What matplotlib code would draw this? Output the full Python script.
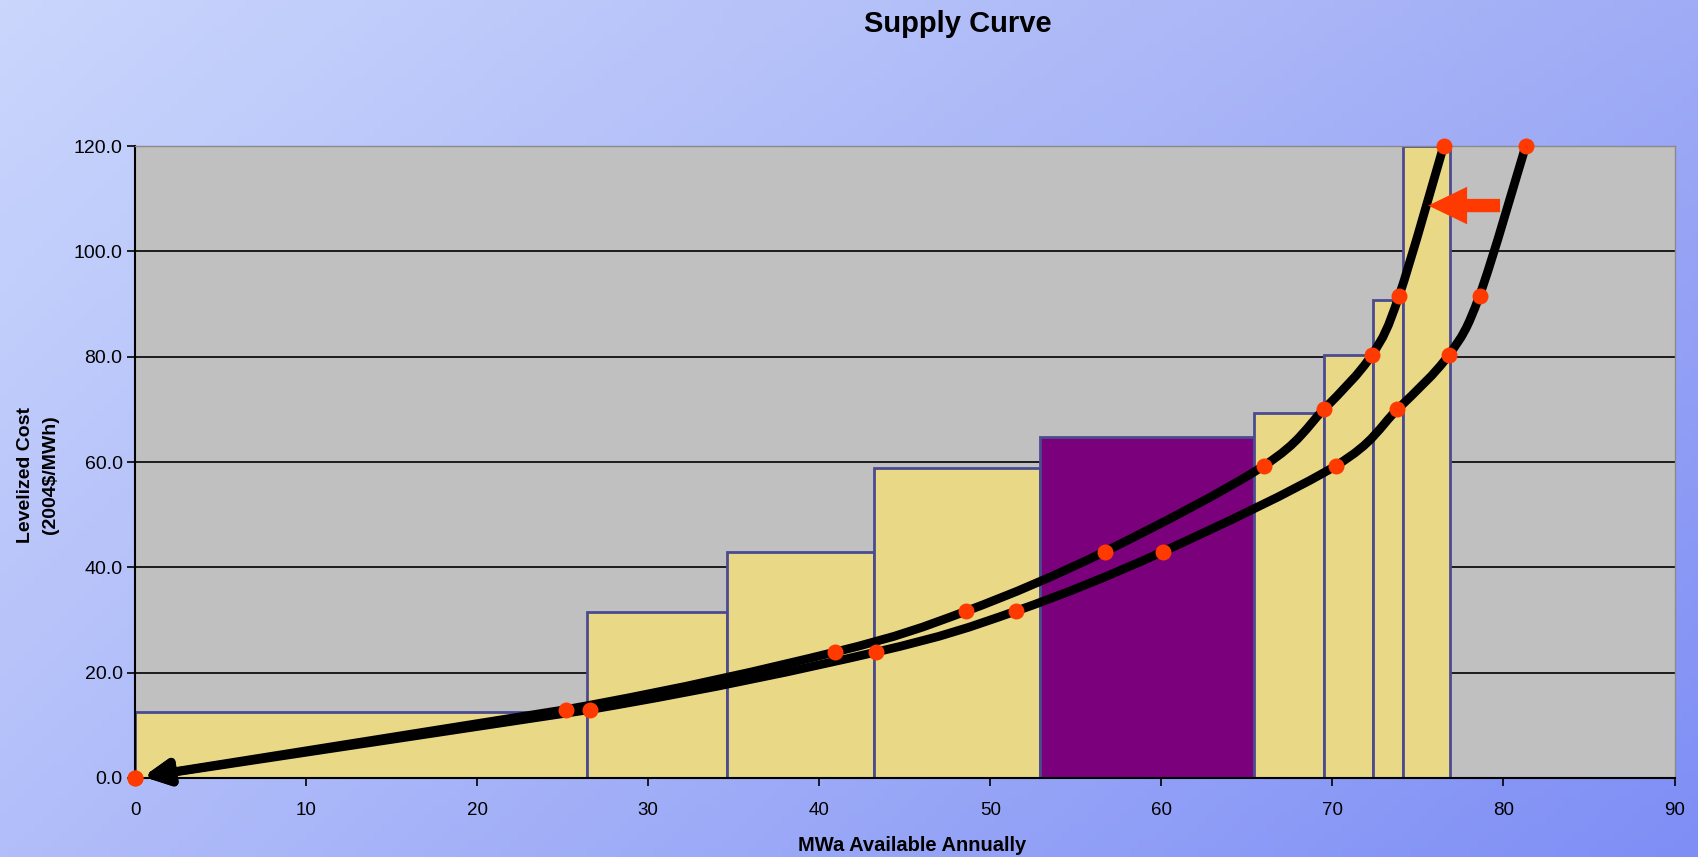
import numpy as np
import matplotlib
matplotlib.use("Agg")
import matplotlib.pyplot as plt
from matplotlib.path import Path
from matplotlib.patches import PathPatch

plt.rcParams["font.family"] = ["Liberation Sans", "DejaVu Sans"]

# supply blocks (MWa) and their levelized cost (2004$/MWh)
block_mw = [26.4, 8.2, 8.6, 9.7, 12.5, 4.1, 2.9, 1.7, 2.8]
block_cost = [12.6, 31.5, 43.0, 58.9, 64.8, 69.4, 80.3, 90.8, 120.0]
highlight_block = 4

# points along the two supply curves
curve_cost = [0.0, 13.0, 23.9, 31.7, 43.0, 59.3, 70.0, 80.3, 91.6, 120.0]
curve_a_mw = [0.0, 25.2, 40.9, 48.6, 56.7, 66.0, 69.5, 72.3, 73.9, 76.5]
curve_b_mw = [0.0, 26.6, 43.3, 51.5, 60.1, 70.2, 73.8, 76.8, 78.6, 81.3]

x_ticks = [0, 10, 20, 30, 40, 50, 60, 70, 80, 90]
y_ticks = [0, 20, 40, 60, 80, 100, 120]

shift_tip = (75.6, 108.7)
shift_tail = (79.8, 108.7)

YELLOW = "#e9d886"
PURPLE = "#7b007b"
EDGE = "#4b4b90"
RED = "#ff3a00"


def smooth_path(xs, ys):
    # Catmull-Rom style bezier through the points (like a smoothed scatter line)
    pts = np.column_stack([xs, ys])
    prev = np.vstack([[0.0, 0.0], pts[:-1]])
    nxt = np.vstack([pts[1:], pts[-1:]])
    verts = [pts[0]]
    codes = [Path.MOVETO]
    for i in range(len(pts) - 1):
        c1 = pts[i] + (nxt[i] - prev[i]) / 6.0
        c2 = pts[i + 1] - (nxt[i + 1] - prev[i + 1]) / 6.0
        verts += [c1, c2, pts[i + 1]]
        codes += [Path.CURVE4] * 3
    return Path(verts, codes)


fig = plt.figure(figsize=(16.99, 8.57), dpi=100)

# diagonal blue background
bg = fig.add_axes([0, 0, 1, 1], zorder=-10)
tl = np.array([202, 214, 252]) / 255
tr = np.array([160, 172, 245]) / 255
bl = np.array([178, 190, 249]) / 255
br = np.array([126, 142, 245]) / 255
u = np.linspace(0, 1, 200)[None, :, None]
v = np.linspace(0, 1, 100)[:, None, None]
grad = (1 - v) * ((1 - u) * tl + u * tr) + v * ((1 - u) * bl + u * br)
bg.imshow(grad, extent=[0, 1, 0, 1], aspect="auto", origin="upper")
bg.axis("off")

ax = fig.add_axes([0.0795, 0.0922, 0.9061, 0.7374])
ax.set_facecolor("#c0c0c0")
ax.set_xlim(0, 90)
ax.set_ylim(0, 120)

ax.set_axisbelow(True)
ax.yaxis.grid(True, color="black", lw=1.2)

lefts = np.concatenate([[0], np.cumsum(block_mw)[:-1]])
colors = [PURPLE if i == highlight_block else YELLOW for i in range(len(block_mw))]
ax.bar(lefts, block_cost, width=block_mw, align="edge", color=colors,
       edgecolor=EDGE, lw=2.0, zorder=2)

# the two curves, smoothed from the first block onward, straight arrow to origin
for mw in (curve_b_mw, curve_a_mw):
    path = smooth_path(mw[1:], curve_cost[1:])
    ax.add_patch(PathPatch(path, fill=False, ec="black", lw=6.3,
                           capstyle="round", zorder=3))
    ax.annotate("", xy=(mw[0], curve_cost[0]), xytext=(mw[1], curve_cost[1]),
                arrowprops=dict(arrowstyle="-|>", color="black", lw=6.3,
                                mutation_scale=36, shrinkA=0, shrinkB=6),
                zorder=3, annotation_clip=False)
    ax.plot(mw, curve_cost, "o", color=RED, ms=11.5, mec="none",
            zorder=4, clip_on=False)

ax.annotate("", xy=shift_tip, xytext=shift_tail,
            arrowprops=dict(arrowstyle="simple,head_length=1.4,head_width=1.35,tail_width=0.48",
                            fc=RED, ec="none", mutation_scale=20,
                            shrinkA=0, shrinkB=0),
            zorder=5)

ax.set_xticks(x_ticks)
ax.set_xticklabels([str(t) for t in x_ticks])
ax.set_yticks(y_ticks)
ax.set_yticklabels([f"{t:.1f}" for t in y_ticks])
ax.tick_params(axis="x", length=6, width=1.2, pad=11, labelsize=13.5, color="black")
ax.tick_params(axis="y", length=6, width=1.2, pad=3, labelsize=14, color="black")

for side in ("left", "bottom"):
    ax.spines[side].set_color("black")
    ax.spines[side].set_linewidth(1.5)
for side in ("top", "right"):
    ax.spines[side].set_color("#8a8a8a")
    ax.spines[side].set_linewidth(1.0)

fig.text(0.564, 0.972, "Supply Curve", ha="center", va="center",
         fontsize=21, fontweight="bold")
fig.text(0.537, 0.014, "MWa Available Annually", ha="center", va="center",
         fontsize=14.5, fontweight="bold")
fig.text(0.0225, 0.446, "Levelized Cost\n(2004$/MWh)", ha="center", va="center",
         rotation=90, fontsize=14, fontweight="bold", linespacing=1.6,
         multialignment="center")

fig.savefig("out.png", dpi=100)
